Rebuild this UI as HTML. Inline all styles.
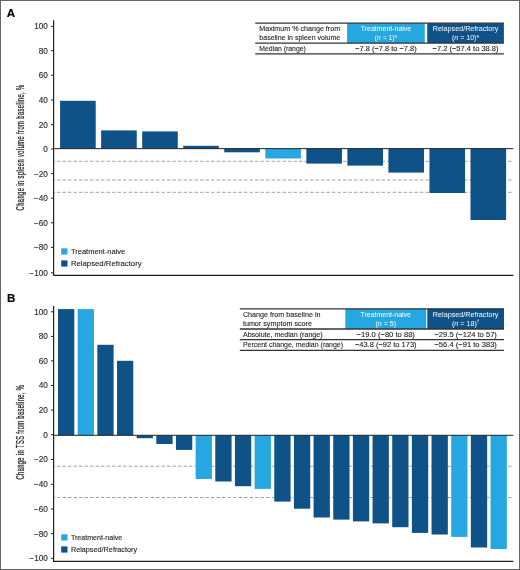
<!DOCTYPE html>
<html><head><meta charset="utf-8"><style>
html,body{margin:0;padding:0;background:#fff;}
svg{display:block;will-change:transform;filter:blur(0.25px);font-family:"Liberation Sans",sans-serif;}
text.k{stroke:#231f20;stroke-width:0.12px;}
text.w{stroke:none;}
</style></head><body>
<svg width="520" height="570" viewBox="0 0 520 570">
<rect width="520" height="570" fill="#fff"/>
<rect x="0.5" y="0.5" width="519" height="569" fill="none" stroke="#666" stroke-width="1"/>
<text x="6.7" y="16.6" font-size="11.6" font-weight="bold" fill="#000" stroke="#000" stroke-width="0.15">A</text>
<text x="6.9" y="302.3" font-size="11.6" font-weight="bold" fill="#000" stroke="#000" stroke-width="0.15">B</text>
<line x1="54" y1="161.3" x2="513.3" y2="161.3" stroke="#8c8c8c" stroke-width="0.8" stroke-dasharray="3.5 2" stroke-dashoffset="2.5"/>
<line x1="54" y1="180.0" x2="513.3" y2="180.0" stroke="#8c8c8c" stroke-width="0.8" stroke-dasharray="3.5 2" stroke-dashoffset="2.5"/>
<line x1="54" y1="192.3" x2="513.3" y2="192.3" stroke="#8c8c8c" stroke-width="0.8" stroke-dasharray="3.5 2" stroke-dashoffset="2.5"/>
<rect x="60.10" y="100.80" width="35.60" height="47.85" fill="#0e5287"/>
<rect x="101.14" y="130.40" width="35.60" height="18.25" fill="#0e5287"/>
<rect x="142.18" y="131.40" width="35.60" height="17.25" fill="#0e5287"/>
<rect x="183.22" y="145.80" width="35.60" height="2.85" fill="#0e5287"/>
<rect x="224.26" y="148.65" width="35.60" height="3.65" fill="#0e5287"/>
<rect x="265.30" y="148.65" width="35.60" height="9.85" fill="#27a7df"/>
<rect x="306.34" y="148.65" width="35.60" height="14.95" fill="#0e5287"/>
<rect x="347.38" y="148.65" width="35.60" height="16.95" fill="#0e5287"/>
<rect x="388.42" y="148.65" width="35.60" height="23.95" fill="#0e5287"/>
<rect x="429.46" y="148.65" width="35.60" height="44.35" fill="#0e5287"/>
<rect x="470.50" y="148.65" width="35.60" height="71.35" fill="#0e5287"/>
<line x1="53.6" y1="148.65" x2="513.3" y2="148.65" stroke="#222222" stroke-width="1"/>
<line x1="53" y1="275.4" x2="513.3" y2="275.4" stroke="#1c1c1c" stroke-width="1.25"/>
<line x1="53.6" y1="20.2" x2="53.6" y2="276.0" stroke="#222222" stroke-width="1.2"/>
<line x1="51" y1="26.3" x2="53.6" y2="26.3" stroke="#222222" stroke-width="1"/>
<text x="47.8" y="29.25" font-size="8.2" text-anchor="end" class="k" fill="#231f20">100</text>
<line x1="51" y1="50.7" x2="53.6" y2="50.7" stroke="#222222" stroke-width="1"/>
<text x="47.8" y="53.65" font-size="8.2" text-anchor="end" class="k" fill="#231f20">80</text>
<line x1="51" y1="75.2" x2="53.6" y2="75.2" stroke="#222222" stroke-width="1"/>
<text x="47.8" y="78.15" font-size="8.2" text-anchor="end" class="k" fill="#231f20">60</text>
<line x1="51" y1="100.1" x2="53.6" y2="100.1" stroke="#222222" stroke-width="1"/>
<text x="47.8" y="103.05" font-size="8.2" text-anchor="end" class="k" fill="#231f20">40</text>
<line x1="51" y1="124.7" x2="53.6" y2="124.7" stroke="#222222" stroke-width="1"/>
<text x="47.8" y="127.65" font-size="8.2" text-anchor="end" class="k" fill="#231f20">20</text>
<line x1="51" y1="149.0" x2="53.6" y2="149.0" stroke="#222222" stroke-width="1"/>
<text x="47.8" y="151.95" font-size="8.2" text-anchor="end" class="k" fill="#231f20">0</text>
<line x1="51" y1="173.7" x2="53.6" y2="173.7" stroke="#222222" stroke-width="1"/>
<text x="47.8" y="176.65" font-size="8.2" text-anchor="end" class="k" fill="#231f20">−20</text>
<line x1="51" y1="198.2" x2="53.6" y2="198.2" stroke="#222222" stroke-width="1"/>
<text x="47.8" y="201.15" font-size="8.2" text-anchor="end" class="k" fill="#231f20">−40</text>
<line x1="51" y1="222.8" x2="53.6" y2="222.8" stroke="#222222" stroke-width="1"/>
<text x="47.8" y="225.75" font-size="8.2" text-anchor="end" class="k" fill="#231f20">−60</text>
<line x1="51" y1="247.4" x2="53.6" y2="247.4" stroke="#222222" stroke-width="1"/>
<text x="47.8" y="250.35" font-size="8.2" text-anchor="end" class="k" fill="#231f20">−80</text>
<line x1="51" y1="272.8" x2="53.6" y2="272.8" stroke="#222222" stroke-width="1"/>
<text x="47.8" y="275.75" font-size="8.2" text-anchor="end" class="k" fill="#231f20">−100</text>
<text transform="translate(23.5,147.4) rotate(-90)" font-size="10.0" text-anchor="middle" textLength="126" lengthAdjust="spacingAndGlyphs" fill="#231f20" stroke="#231f20" stroke-width="0.3" letter-spacing="0.7">Change in spleen volume from baseline, %</text>
<line x1="54" y1="466.2" x2="513.3" y2="466.2" stroke="#8c8c8c" stroke-width="0.8" stroke-dasharray="3.5 2" stroke-dashoffset="2.5"/>
<line x1="54" y1="497.5" x2="513.3" y2="497.5" stroke="#8c8c8c" stroke-width="0.8" stroke-dasharray="3.5 2" stroke-dashoffset="2.5"/>
<rect x="58.00" y="309.10" width="16.30" height="126.20" fill="#0e5287"/>
<rect x="77.66" y="309.10" width="16.30" height="126.20" fill="#27a7df"/>
<rect x="97.32" y="344.80" width="16.30" height="90.50" fill="#0e5287"/>
<rect x="116.98" y="360.80" width="16.30" height="74.50" fill="#0e5287"/>
<rect x="136.64" y="435.30" width="16.30" height="2.90" fill="#0e5287"/>
<rect x="156.30" y="435.30" width="16.30" height="8.70" fill="#0e5287"/>
<rect x="175.96" y="435.30" width="16.30" height="14.60" fill="#0e5287"/>
<rect x="195.62" y="435.30" width="16.30" height="43.70" fill="#27a7df"/>
<rect x="215.28" y="435.30" width="16.30" height="46.20" fill="#0e5287"/>
<rect x="234.94" y="435.30" width="16.30" height="50.90" fill="#0e5287"/>
<rect x="254.60" y="435.30" width="16.30" height="53.60" fill="#27a7df"/>
<rect x="274.26" y="435.30" width="16.30" height="66.30" fill="#0e5287"/>
<rect x="293.92" y="435.30" width="16.30" height="73.40" fill="#0e5287"/>
<rect x="313.58" y="435.30" width="16.30" height="82.20" fill="#0e5287"/>
<rect x="333.24" y="435.30" width="16.30" height="84.30" fill="#0e5287"/>
<rect x="352.90" y="435.30" width="16.30" height="86.10" fill="#0e5287"/>
<rect x="372.56" y="435.30" width="16.30" height="88.10" fill="#0e5287"/>
<rect x="392.22" y="435.30" width="16.30" height="91.90" fill="#0e5287"/>
<rect x="411.88" y="435.30" width="16.30" height="97.60" fill="#0e5287"/>
<rect x="431.54" y="435.30" width="16.30" height="99.20" fill="#0e5287"/>
<rect x="451.20" y="435.30" width="16.30" height="101.60" fill="#27a7df"/>
<rect x="470.86" y="435.30" width="16.30" height="112.20" fill="#0e5287"/>
<rect x="490.52" y="435.30" width="16.30" height="113.70" fill="#27a7df"/>
<line x1="53.6" y1="435.3" x2="513.3" y2="435.3" stroke="#222222" stroke-width="1"/>
<line x1="53" y1="561.4" x2="513.3" y2="561.4" stroke="#1c1c1c" stroke-width="1.25"/>
<line x1="53.6" y1="306.0" x2="53.6" y2="562.0" stroke="#222222" stroke-width="1.2"/>
<line x1="51" y1="311.8" x2="53.6" y2="311.8" stroke="#222222" stroke-width="1"/>
<text x="47.8" y="314.75" font-size="8.2" text-anchor="end" class="k" fill="#231f20">100</text>
<line x1="51" y1="336.4" x2="53.6" y2="336.4" stroke="#222222" stroke-width="1"/>
<text x="47.8" y="339.35" font-size="8.2" text-anchor="end" class="k" fill="#231f20">80</text>
<line x1="51" y1="360.9" x2="53.6" y2="360.9" stroke="#222222" stroke-width="1"/>
<text x="47.8" y="363.85" font-size="8.2" text-anchor="end" class="k" fill="#231f20">60</text>
<line x1="51" y1="385.5" x2="53.6" y2="385.5" stroke="#222222" stroke-width="1"/>
<text x="47.8" y="388.45" font-size="8.2" text-anchor="end" class="k" fill="#231f20">40</text>
<line x1="51" y1="410.1" x2="53.6" y2="410.1" stroke="#222222" stroke-width="1"/>
<text x="47.8" y="413.05" font-size="8.2" text-anchor="end" class="k" fill="#231f20">20</text>
<line x1="51" y1="434.6" x2="53.6" y2="434.6" stroke="#222222" stroke-width="1"/>
<text x="47.8" y="437.55" font-size="8.2" text-anchor="end" class="k" fill="#231f20">0</text>
<line x1="51" y1="459.5" x2="53.6" y2="459.5" stroke="#222222" stroke-width="1"/>
<text x="47.8" y="462.45" font-size="8.2" text-anchor="end" class="k" fill="#231f20">−20</text>
<line x1="51" y1="484.3" x2="53.6" y2="484.3" stroke="#222222" stroke-width="1"/>
<text x="47.8" y="487.25" font-size="8.2" text-anchor="end" class="k" fill="#231f20">−40</text>
<line x1="51" y1="509.0" x2="53.6" y2="509.0" stroke="#222222" stroke-width="1"/>
<text x="47.8" y="511.95" font-size="8.2" text-anchor="end" class="k" fill="#231f20">−60</text>
<line x1="51" y1="533.7" x2="53.6" y2="533.7" stroke="#222222" stroke-width="1"/>
<text x="47.8" y="536.65" font-size="8.2" text-anchor="end" class="k" fill="#231f20">−80</text>
<line x1="51" y1="558.3" x2="53.6" y2="558.3" stroke="#222222" stroke-width="1"/>
<text x="47.8" y="561.25" font-size="8.2" text-anchor="end" class="k" fill="#231f20">−100</text>
<text transform="translate(23.5,432.1) rotate(-90)" font-size="10.0" text-anchor="middle" textLength="94.7" lengthAdjust="spacingAndGlyphs" fill="#231f20" stroke="#231f20" stroke-width="0.3" letter-spacing="0.7">Change in TSS from baseline, %</text>
<rect x="61.2" y="248.30" width="6.3" height="6.2" fill="#27a7df"/>
<text x="70.9" y="254.15" font-size="8.0" textLength="54.4" lengthAdjust="spacingAndGlyphs" class="k" fill="#231f20">Treatment-naive</text>
<rect x="61.2" y="260.40" width="6.3" height="6.2" fill="#0e5287"/>
<text x="70.9" y="266.25" font-size="8.0" textLength="70.7" lengthAdjust="spacingAndGlyphs" class="k" fill="#231f20">Relapsed/Refractory</text>
<rect x="61.2" y="534.30" width="6.3" height="6.2" fill="#27a7df"/>
<text x="70.9" y="540.15" font-size="7.7" textLength="51.3" lengthAdjust="spacingAndGlyphs" class="k" fill="#231f20">Treatment-naive</text>
<rect x="61.2" y="546.40" width="6.3" height="6.2" fill="#0e5287"/>
<text x="70.9" y="552.25" font-size="7.7" textLength="66.2" lengthAdjust="spacingAndGlyphs" class="k" fill="#231f20">Relapsed/Refractory</text>
<rect x="347.1" y="23.2" width="77.69999999999999" height="19.900000000000002" fill="#27a7df"/>
<rect x="427.2" y="23.2" width="76.69999999999999" height="19.900000000000002" fill="#0e5287"/>
<line x1="255.2" y1="23.2" x2="503.9" y2="23.2" stroke="#333" stroke-width="1.3"/>
<line x1="255.2" y1="43.1" x2="503.9" y2="43.1" stroke="#333" stroke-width="1.3"/>
<line x1="255.2" y1="53.8" x2="503.9" y2="53.8" stroke="#333" stroke-width="1.3"/>
<text x="259.30" y="30.8" font-size="7.9" textLength="80.8" lengthAdjust="spacingAndGlyphs" class="k" fill="#231f20">Maximum % change from</text>
<text x="259.30" y="39.7" font-size="7.9" textLength="81.0" lengthAdjust="spacingAndGlyphs" class="k" fill="#231f20">baseline in spleen volume</text>
<text x="259.30" y="50.6" font-size="7.9" textLength="46.5" lengthAdjust="spacingAndGlyphs" class="k" fill="#231f20">Median (range)</text>
<text x="385.95" y="30.9" font-size="7.9" text-anchor="middle" textLength="50.4" lengthAdjust="spacingAndGlyphs" class="w" fill="#fff">Treatment-naive</text>
<text x="385.95" y="39.6" font-size="7.9" text-anchor="middle" textLength="22.3" lengthAdjust="spacingAndGlyphs" class="w" fill="#fff">(<tspan font-style="italic">n</tspan> = 1)*</text>
<text x="385.95" y="50.6" font-size="7.9" text-anchor="middle" textLength="61.5" lengthAdjust="spacingAndGlyphs" class="k" fill="#231f20">−7.8 (−7.8 to −7.8)</text>
<text x="465.55" y="30.9" font-size="7.9" text-anchor="middle" textLength="65.6" lengthAdjust="spacingAndGlyphs" class="w" fill="#fff">Relapsed/Refractory</text>
<text x="465.55" y="39.6" font-size="7.9" text-anchor="middle" textLength="27.2" lengthAdjust="spacingAndGlyphs" class="w" fill="#fff">(<tspan font-style="italic">n</tspan> = 10)*</text>
<text x="465.55" y="50.6" font-size="7.9" text-anchor="middle" textLength="66.0" lengthAdjust="spacingAndGlyphs" class="k" fill="#231f20">−7.2 (−57.4 to 38.8)</text>
<rect x="345.3" y="308.8" width="80.89999999999998" height="20.19999999999999" fill="#27a7df"/>
<rect x="427.3" y="308.8" width="76.69999999999999" height="20.19999999999999" fill="#0e5287"/>
<line x1="239.8" y1="308.8" x2="504.0" y2="308.8" stroke="#333" stroke-width="1.3"/>
<line x1="239.8" y1="329.0" x2="504.0" y2="329.0" stroke="#333" stroke-width="1.3"/>
<line x1="239.8" y1="339.6" x2="504.0" y2="339.6" stroke="#333" stroke-width="1.3"/>
<line x1="239.8" y1="350.4" x2="504.0" y2="350.4" stroke="#333" stroke-width="1.3"/>
<text x="242.90" y="316.6" font-size="7.9" textLength="77.6" lengthAdjust="spacingAndGlyphs" class="k" fill="#231f20">Change from baseline in</text>
<text x="242.90" y="325.5" font-size="7.9" textLength="69.1" lengthAdjust="spacingAndGlyphs" class="k" fill="#231f20">tumor symptom score</text>
<text x="242.90" y="336.7" font-size="7.9" textLength="79.7" lengthAdjust="spacingAndGlyphs" class="k" fill="#231f20">Absolute, median (range)</text>
<text x="242.90" y="347.4" font-size="7.9" textLength="100.2" lengthAdjust="spacingAndGlyphs" class="k" fill="#231f20">Percent change, median (range)</text>
<text x="385.75" y="316.8" font-size="7.9" text-anchor="middle" textLength="50.4" lengthAdjust="spacingAndGlyphs" class="w" fill="#fff">Treatment-naive</text>
<text x="385.75" y="325.6" font-size="7.9" text-anchor="middle" textLength="20.6" lengthAdjust="spacingAndGlyphs" class="w" fill="#fff">(<tspan font-style="italic">n</tspan> = 5)</text>
<text x="385.75" y="336.7" font-size="7.9" text-anchor="middle" textLength="58.3" lengthAdjust="spacingAndGlyphs" class="k" fill="#231f20">−19.0 (−80 to 88)</text>
<text x="385.75" y="347.4" font-size="7.9" text-anchor="middle" textLength="61.7" lengthAdjust="spacingAndGlyphs" class="k" fill="#231f20">−43.8 (−92 to 173)</text>
<text x="465.65" y="316.8" font-size="7.9" text-anchor="middle" textLength="65.6" lengthAdjust="spacingAndGlyphs" class="w" fill="#fff">Relapsed/Refractory</text>
<text x="465.65" y="325.6" font-size="7.9" text-anchor="middle" textLength="27.5" lengthAdjust="spacingAndGlyphs" class="w" fill="#fff">(<tspan font-style="italic">n</tspan> = 18)<tspan font-size="5" dy="-2.5">†</tspan></text>
<text x="465.65" y="336.7" font-size="7.9" text-anchor="middle" textLength="62.5" lengthAdjust="spacingAndGlyphs" class="k" fill="#231f20">−29.5 (−124 to 57)</text>
<text x="465.65" y="347.4" font-size="7.9" text-anchor="middle" textLength="62.5" lengthAdjust="spacingAndGlyphs" class="k" fill="#231f20">−56.4 (−91 to 383)</text>
</svg>
</body></html>
